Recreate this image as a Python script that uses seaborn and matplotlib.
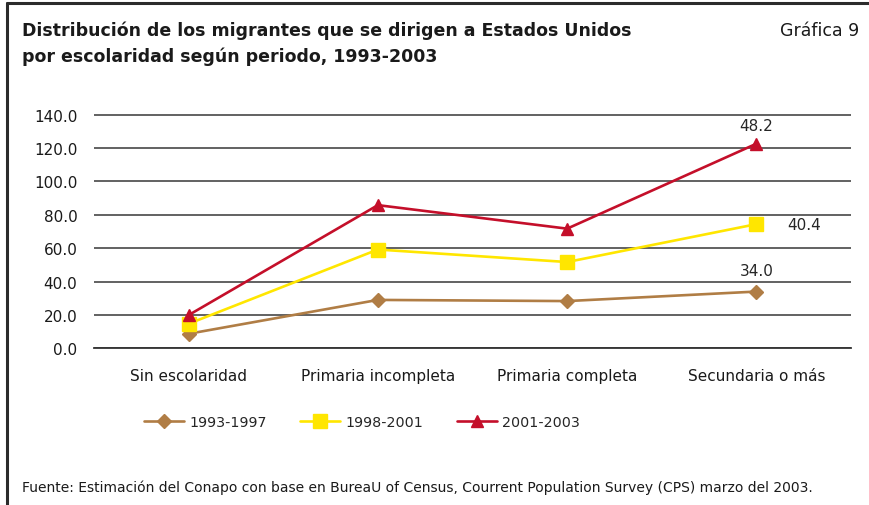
import numpy as np
import pandas as pd
import seaborn as sns
import matplotlib
matplotlib.use("Agg")
from matplotlib import pyplot as plt
from matplotlib.lines import Line2D

CATEGORIES = ["Sin escolaridad", "Primaria incompleta", "Primaria completa", "Secundaria o más"]
PERIODS = ["1993-1997", "1998-2001", "2001-2003"]

# share (%) of each schooling level per period; drawn stacked
P_1993_1997 = [8.7, 29.0, 28.3, 34.0]
P_1998_2001 = [6.0, 30.2, 23.4, 40.4]
P_2001_2003 = [5.2, 26.6, 20.0, 48.2]

COLORS = ["#B07D45", "#FFE600", "#C40F2A"]
MARKERS = ["D", "s", "^"]
MSIZES = [7.5, 9.5, 9]

sns.set_theme(style="white")
plt.rcParams["font.family"] = ["DejaVu Sans"]

series = [P_1993_1997, P_1998_2001, P_2001_2003]
stacked = np.cumsum(np.array(series), axis=0)
rows = []
for p, vals in zip(PERIODS, stacked):
    for i, v in enumerate(vals):
        rows.append({"periodo": p, "pos": i, "valor": v})
df = pd.DataFrame(rows)

fig = plt.figure(figsize=(8.69, 5.06), dpi=100)
# a bit of headroom above 140 so the top gridline is not clipped
ax = fig.add_axes([94 / 869, 1 - 349.3 / 506, 757 / 869, 233.6 * 141 / 140 / 506])

sns.lineplot(data=df, x="pos", y="valor", hue="periodo", palette=COLORS,
             linewidth=1.9, legend=False, ax=ax, zorder=3)
for col, m, ms, vals in zip(COLORS, MARKERS, MSIZES, stacked):
    ax.plot(range(len(CATEGORIES)), vals, linestyle="none", marker=m,
            markersize=ms, color=col, markeredgecolor=col, zorder=4)

ax.set_xlim(-0.5, 3.5)
ax.set_ylim(0, 141)
ticks = np.arange(0, 141, 20)
ax.set_yticks(ticks)
ax.set_yticklabels([f"{v:.1f}" for v in ticks], fontsize=11)
ax.set_xticks(range(len(CATEGORIES)))
ax.set_xticklabels(CATEGORIES, fontsize=11)
ax.tick_params(axis="both", length=0, pad=12, colors="#1a1a1a")
ax.tick_params(axis="x", pad=14)
ax.set_xlabel("")
ax.set_ylabel("")
for s in ["top", "right", "left"]:
    ax.spines[s].set_visible(False)
ax.spines["bottom"].set_color("#333333")
ax.spines["bottom"].set_linewidth(1.3)
ax.yaxis.grid(True, color="#555555", linewidth=1.3)
ax.set_axisbelow(True)

# value labels at last point (individual share)
last = len(CATEGORIES) - 1
ax.annotate(f"{P_1993_1997[-1]:.1f}", (last, stacked[0][-1]), xytext=(0, 10),
            textcoords="offset points", ha="center", va="bottom", fontsize=11)
ax.annotate(f"{P_1998_2001[-1]:.1f}", (last, stacked[1][-1]), xytext=(22, 0),
            textcoords="offset points", ha="left", va="center", fontsize=11)
ax.annotate(f"{P_2001_2003[-1]:.1f}", (last, stacked[2][-1]), xytext=(0, 8),
            textcoords="offset points", ha="center", va="bottom", fontsize=11)

handles = [Line2D([0], [0], color=c, linewidth=1.9, marker=m, markersize=ms,
                  markeredgecolor=c) for c, m, ms in zip(COLORS, MARKERS, MSIZES)]
fig.legend(handles, PERIODS, loc="center", bbox_to_anchor=(362 / 869, 1 - 423 / 506),
           ncol=3, frameon=False, fontsize=10.3, handlelength=2.8, columnspacing=2.3,
           handletextpad=0.4)

fig.text(22 / 869, 1 - 44 / 506,
         "Distribución de los migrantes que se dirigen a Estados Unidos\n"
         "por escolaridad según periodo, 1993-2003",
         ha="left", va="center", fontsize=12.5, fontweight="bold", color="#1a1a1a",
         linespacing=1.55)
fig.text(859 / 869, 1 - 31 / 506, "Gráfica 9", ha="right", va="center",
         fontsize=12.5, color="#1a1a1a")
fig.text(22 / 869, 1 - 488 / 506,
         "Fuente: Estimación del Conapo con base en BureaU of Census, Courrent Population Survey (CPS) marzo del 2003.",
         ha="left", va="center", fontsize=10, color="#1a1a1a")

# outer frame (top and left edges)
fig.add_artist(Line2D([7.5 / 869, 7.5 / 869], [0, 1 - 4 / 506], color="#2b2b2b",
                      linewidth=2.2, transform=fig.transFigure))
fig.add_artist(Line2D([7.5 / 869, 1], [1 - 4 / 506, 1 - 4 / 506], color="#2b2b2b",
                      linewidth=2.2, transform=fig.transFigure))

fig.savefig("out.png", dpi=100)
